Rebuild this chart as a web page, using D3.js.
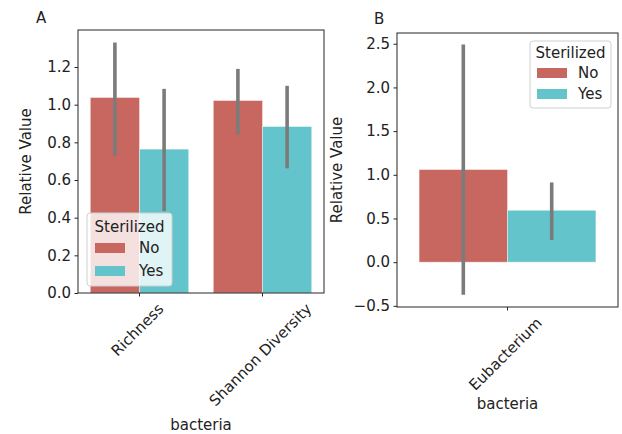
<!DOCTYPE html>
<html>
<head>
<meta charset="utf-8">
<script src="https://cdn.jsdelivr.net/npm/d3@7"></script>
<style>
  body { margin: 0; background: #fff; }
  text { font-family: "DejaVu Sans", sans-serif; fill: #222; }
</style>
</head>
<body>
<svg id="chart" width="622" height="434"></svg>
<script>
// values
const hues = ["No", "Yes"];
const hueColors = ["#c8675f", "#64c4cc"];

const categoriesA = ["Richness", "Shannon Diversity"];
const noA = [1.038, 1.022];
const yesA = [0.764, 0.884];
const noA_lo = [0.728, 0.842];
const noA_hi = [1.33, 1.19];
const yesA_lo = [0.435, 0.662];
const yesA_hi = [1.084, 1.10];
const ticksA = [0, 0.2, 0.4, 0.6, 0.8, 1.0, 1.2];

const categoriesB = ["Eubacterium"];
const noB = [1.06];
const yesB = [0.594];
const noB_lo = [-0.373];
const noB_hi = [2.49];
const yesB_lo = [0.255];
const yesB_hi = [0.913];
const ticksB = [-0.5, 0, 0.5, 1.0, 1.5, 2.0, 2.5];

const FS = "15px";
const svg = d3.select("#chart");

function panel(opts) {
  const { left, right, top, bottom, yDomain, ticks, fmt, cats, no, yes, lo, hi, label, labelDx, legendBox } = opts;
  const g = svg.append("g");

  const x = d3.scaleBand().domain(cats).range([left, right]).padding(0);
  const xh = d3.scaleBand().domain(hues).range([0, x.bandwidth()]).paddingOuter(0.25).paddingInner(0);
  const y = d3.scaleLinear().domain(yDomain).range([bottom, top]);

  const rows = [];
  cats.forEach((c, i) => {
    rows.push({ c, h: "No", v: no[i], lo: lo.no[i], hi: hi.no[i] });
    rows.push({ c, h: "Yes", v: yes[i], lo: lo.yes[i], hi: hi.yes[i] });
  });

  g.selectAll("rect.bar").data(rows).join("rect")
    .attr("class", "bar")
    .attr("x", d => x(d.c) + xh(d.h))
    .attr("width", xh.bandwidth())
    .attr("y", d => y(Math.max(0, d.v)))
    .attr("height", d => Math.abs(y(d.v) - y(0)))
    .attr("fill", d => hueColors[hues.indexOf(d.h)])
    .attr("stroke", "#fff")
    .attr("stroke-opacity", 0.5)
    .attr("stroke-width", 0.8);

  g.selectAll("line.err").data(rows).join("line")
    .attr("class", "err")
    .attr("x1", d => x(d.c) + xh(d.h) + xh.bandwidth() / 2)
    .attr("x2", d => x(d.c) + xh(d.h) + xh.bandwidth() / 2)
    .attr("y1", d => y(d.lo))
    .attr("y2", d => y(d.hi))
    .attr("stroke", "#7b7b7b")
    .attr("stroke-width", 3.6);

  // frame
  g.append("rect")
    .attr("x", left).attr("y", top)
    .attr("width", right - left).attr("height", bottom - top)
    .attr("fill", "none").attr("stroke", "#262626").attr("stroke-width", 1);

  const ya = g.append("g")
    .attr("transform", `translate(${left},0)`)
    .call(d3.axisLeft(y).tickValues(ticks).tickFormat(fmt).tickSize(3.5).tickPadding(3.5));
  ya.select(".domain").remove();
  ya.selectAll("line").attr("stroke", "#262626");
  ya.selectAll("text").style("font-size", FS).attr("fill", "#222");

  const xa = g.append("g")
    .attr("transform", `translate(0,${bottom})`)
    .call(d3.axisBottom(x).tickSize(3.5).tickFormat(""));
  xa.select(".domain").remove();
  xa.selectAll("line").attr("stroke", "#262626");

  cats.forEach(c => {
    const cx = x(c) + x.bandwidth() / 2;
    const t = g.append("text")
      .attr("text-anchor", "middle")
      .attr("dominant-baseline", "central")
      .style("font-size", FS)
      .text(c);
    const w = t.node().getComputedTextLength();
    const H = (w + 15) / Math.SQRT2;
    t.attr("transform", `translate(${cx - 2},${bottom + 8 + H / 2}) rotate(-45)`);
  });

  g.append("text")
    .attr("x", (left + right) / 2)
    .attr("y", opts.xLabelY)
    .attr("text-anchor", "middle")
    .style("font-size", FS)
    .text("bacteria");

  g.append("text")
    .attr("transform", `translate(${opts.yLabelX},${(top + bottom) / 2}) rotate(-90)`)
    .attr("text-anchor", "middle")
    .attr("dominant-baseline", "central")
    .style("font-size", FS)
    .text("Relative Value");

  g.append("text")
    .attr("x", left + labelDx)
    .attr("y", opts.labelY)
    .style("font-size", FS)
    .text(label);

  // legend
  const lb = legendBox;
  const lg = g.append("g").attr("transform", `translate(${lb.x},${lb.y})`);
  lg.append("rect")
    .attr("width", lb.w).attr("height", lb.h)
    .attr("rx", 3)
    .attr("fill", "#fff").attr("fill-opacity", 0.8)
    .attr("stroke", "#d0d0d0").attr("stroke-width", 1);
  lg.append("text")
    .attr("x", lb.w / 2).attr("y", lb.titleY)
    .attr("text-anchor", "middle")
    .attr("dominant-baseline", "central")
    .style("font-size", FS)
    .text("Sterilized");
  hues.forEach((h, i) => {
    const py = lb.rowY[i];
    lg.append("rect")
      .attr("x", lb.patchX).attr("y", py)
      .attr("width", 30).attr("height", 10)
      .attr("fill", hueColors[i]);
    lg.append("text")
      .attr("x", lb.textX).attr("y", py + 5)
      .attr("dominant-baseline", "central")
      .style("font-size", FS)
      .text(h);
  });
}

panel({
  left: 78, right: 324, top: 30, bottom: 293,
  yDomain: [0, 1.3965], ticks: ticksA, fmt: d3.format(".1f"),
  cats: categoriesA, no: noA, yes: yesA,
  lo: { no: noA_lo, yes: yesA_lo }, hi: { no: noA_hi, yes: yesA_hi },
  label: "A", labelDx: -42, labelY: 23,
  xLabelY: 430, yLabelX: 26,
  legendBox: { x: 87, y: 213, w: 85, h: 73, titleY: 14, rowY: [30, 53], patchX: 8, textX: 52 }
});

panel({
  left: 397, right: 618, top: 33, bottom: 307,
  yDomain: [-0.513, 2.623], ticks: ticksB, fmt: d => d3.format(".1f")(d).replace("-", "\u2212"),
  cats: categoriesB, no: noB, yes: yesB,
  lo: { no: noB_lo, yes: yesB_lo }, hi: { no: noB_hi, yes: yesB_hi },
  label: "B", labelDx: -23, labelY: 24,
  xLabelY: 409, yLabelX: 337,
  legendBox: { x: 530, y: 41, w: 81, h: 67, titleY: 12, rowY: [27, 48], patchX: 7, textX: 48 }
});
</script>
</body>
</html>
